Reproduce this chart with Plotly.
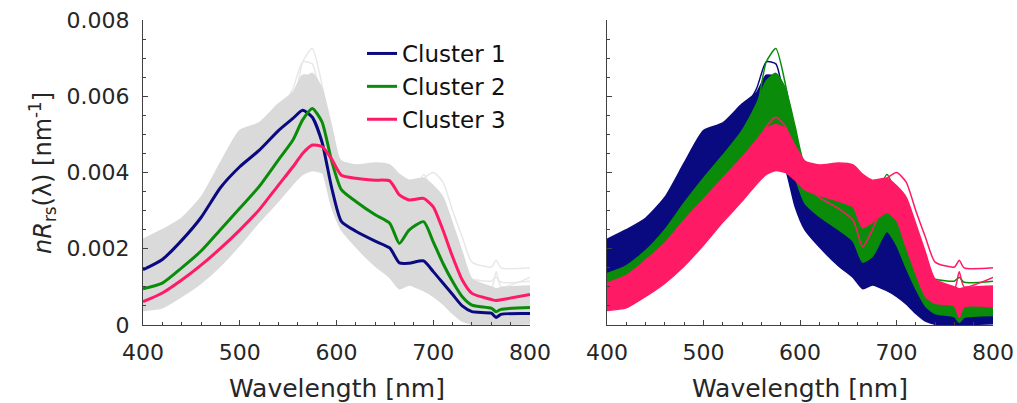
import plotly.graph_objects as go

# ---------------- data ----------------
WL = [400, 420, 440, 460, 480, 500, 520, 540, 555, 565, 575, 585, 595, 605, 620,
      640, 655, 665, 675, 690, 700, 710, 720, 730, 740, 760, 765, 770, 800]

# cluster mean spectra (nRrs, nm^-1)
C1_MEAN = [1.45e-3, 1.72e-3, 2.22e-3, 2.82e-3, 3.60e-3, 4.15e-3, 4.58e-3, 5.10e-3, 5.42e-3, 5.63e-3,
           5.45e-3, 4.80e-3, 3.60e-3, 2.72e-3, 2.46e-3, 2.20e-3, 2.02e-3, 1.63e-3, 1.62e-3, 1.68e-3,
           1.40e-3, 1.10e-3, 0.80e-3, 0.50e-3, 0.35e-3, 0.31e-3, 0.20e-3, 0.28e-3, 0.30e-3]
C2_MEAN = [0.95e-3, 1.10e-3, 1.50e-3, 1.94e-3, 2.50e-3, 3.06e-3, 3.63e-3, 4.33e-3, 4.85e-3, 5.38e-3,
           5.68e-3, 5.33e-3, 4.30e-3, 3.55e-3, 3.24e-3, 2.89e-3, 2.67e-3, 2.14e-3, 2.49e-3, 2.71e-3,
           2.18e-3, 1.62e-3, 1.14e-3, 0.74e-3, 0.52e-3, 0.44e-3, 0.35e-3, 0.41e-3, 0.46e-3]
C3_MEAN = [0.61e-3, 0.84e-3, 1.18e-3, 1.57e-3, 2.01e-3, 2.49e-3, 3.02e-3, 3.67e-3, 4.15e-3, 4.50e-3,
           4.72e-3, 4.68e-3, 4.35e-3, 3.93e-3, 3.85e-3, 3.80e-3, 3.78e-3, 3.41e-3, 3.28e-3, 3.32e-3,
           3.10e-3, 2.49e-3, 1.79e-3, 1.18e-3, 0.83e-3, 0.67e-3, 0.64e-3, 0.66e-3, 0.80e-3]

# upper / lower edges of the bundle of spectra in each cluster
C1_UPPER = [2.25e-3, 2.50e-3, 2.80e-3, 3.35e-3, 4.25e-3, 5.10e-3, 5.30e-3, 5.80e-3, 6.10e-3, 6.55e-3,
            6.50e-3, 5.40e-3, 4.30e-3, 3.30e-3, 3.00e-3, 2.75e-3, 2.60e-3, 2.30e-3, 2.45e-3, 2.65e-3,
            2.35e-3, 1.80e-3, 1.10e-3, 0.60e-3, 0.40e-3, 0.32e-3, 0.25e-3, 0.30e-3, 0.33e-3]
C1_LOWER = [1.20e-3, 1.40e-3, 1.75e-3, 2.20e-3, 2.80e-3, 3.30e-3, 3.80e-3, 4.30e-3, 4.60e-3, 4.70e-3,
            4.60e-3, 4.10e-3, 3.10e-3, 2.50e-3, 2.05e-3, 1.55e-3, 1.25e-3, 0.95e-3, 1.05e-3, 0.90e-3,
            0.75e-3, 0.55e-3, 0.30e-3, 0.10e-3, 0.02e-3, 0.01e-3, 0.01e-3, 0.01e-3, 0.03e-3]
C2_UPPER = [1.35e-3, 1.55e-3, 1.95e-3, 2.50e-3, 3.20e-3, 3.85e-3, 4.45e-3, 5.10e-3, 5.80e-3, 6.40e-3,
            6.60e-3, 6.20e-3, 5.20e-3, 4.20e-3, 3.95e-3, 3.85e-3, 3.70e-3, 3.40e-3, 3.50e-3, 3.60e-3,
            3.35e-3, 2.75e-3, 2.00e-3, 1.25e-3, 0.75e-3, 0.62e-3, 0.55e-3, 0.60e-3, 0.70e-3]
C2_LOWER = [0.40e-3, 0.60e-3, 1.00e-3, 1.40e-3, 1.90e-3, 2.40e-3, 2.95e-3, 3.60e-3, 4.05e-3, 4.35e-3,
            4.45e-3, 4.30e-3, 3.85e-3, 3.20e-3, 2.85e-3, 2.50e-3, 2.20e-3, 1.65e-3, 1.80e-3, 2.45e-3,
            2.10e-3, 1.50e-3, 0.95e-3, 0.50e-3, 0.30e-3, 0.22e-3, 0.07e-3, 0.20e-3, 0.25e-3]
C3_UPPER = [1.10e-3, 1.30e-3, 1.70e-3, 2.15e-3, 2.75e-3, 3.30e-3, 3.85e-3, 4.40e-3, 4.85e-3, 5.15e-3,
            5.25e-3, 5.15e-3, 4.70e-3, 4.30e-3, 4.20e-3, 4.25e-3, 4.20e-3, 3.95e-3, 3.80e-3, 3.85e-3,
            3.65e-3, 3.35e-3, 2.65e-3, 1.90e-3, 1.20e-3, 1.00e-3, 0.95e-3, 0.98e-3, 1.02e-3]
C3_LOWER = [0.38e-3, 0.45e-3, 0.75e-3, 1.10e-3, 1.55e-3, 2.10e-3, 2.70e-3, 3.25e-3, 3.70e-3, 3.95e-3,
            4.05e-3, 4.00e-3, 3.80e-3, 3.55e-3, 3.40e-3, 3.25e-3, 3.10e-3, 2.55e-3, 2.70e-3, 2.95e-3,
            2.75e-3, 2.05e-3, 1.35e-3, 0.75e-3, 0.57e-3, 0.50e-3, 0.20e-3, 0.48e-3, 0.48e-3]

# individual outlying spectra
C1_PEAK = [1.90e-3, 2.10e-3, 2.55e-3, 3.10e-3, 3.85e-3, 4.55e-3, 5.00e-3, 5.55e-3, 6.20e-3, 6.90e-3,
           6.85e-3, 5.70e-3, 4.30e-3, 3.05e-3, 2.70e-3, 2.40e-3, 2.20e-3, 1.80e-3, 1.90e-3, 2.00e-3,
           1.70e-3, 1.20e-3, 0.70e-3, 0.35e-3, 0.15e-3, 0.10e-3, 0.05e-3, 0.10e-3, 0.10e-3]
C2_PEAK = [0.80e-3, 0.95e-3, 1.30e-3, 1.75e-3, 2.30e-3, 2.90e-3, 3.60e-3, 4.50e-3, 5.60e-3, 6.90e-3,
           7.25e-3, 6.30e-3, 4.90e-3, 3.70e-3, 3.40e-3, 3.20e-3, 3.10e-3, 2.80e-3, 3.10e-3, 3.95e-3,
           3.40e-3, 2.40e-3, 1.70e-3, 1.30e-3, 1.20e-3, 1.15e-3, 1.25e-3, 1.12e-3, 1.15e-3]
C3_OUT_A = [0.70e-3, 0.90e-3, 1.30e-3, 1.70e-3, 2.20e-3, 2.80e-3, 3.40e-3, 4.10e-3, 4.70e-3, 5.20e-3,
            5.45e-3, 5.20e-3, 4.60e-3, 4.10e-3, 3.90e-3, 3.75e-3, 3.65e-3, 3.45e-3, 3.55e-3, 3.85e-3,
            4.00e-3, 3.75e-3, 3.00e-3, 2.30e-3, 1.65e-3, 1.52e-3, 1.70e-3, 1.50e-3, 1.50e-3]
C3_OUT_B = [0.50e-3, 0.60e-3, 0.95e-3, 1.35e-3, 1.85e-3, 2.40e-3, 3.00e-3, 3.60e-3, 4.10e-3, 4.40e-3,
            4.55e-3, 4.45e-3, 4.10e-3, 3.70e-3, 3.35e-3, 3.05e-3, 2.75e-3, 2.05e-3, 2.50e-3, 3.30e-3,
            3.20e-3, 2.85e-3, 2.20e-3, 1.50e-3, 1.05e-3, 0.95e-3, 1.40e-3, 1.00e-3, 1.25e-3]

NAMES = ["Cluster 1", "Cluster 2", "Cluster 3"]
MEANS = [C1_MEAN, C2_MEAN, C3_MEAN]
UPPERS = [C1_UPPER, C2_UPPER, C3_UPPER]
LOWERS = [C1_LOWER, C2_LOWER, C3_LOWER]
OUTLIERS = [[C1_PEAK], [C2_PEAK], [C3_OUT_A, C3_OUT_B]]

X_TICKS = [400, 500, 600, 700, 800]
Y_TICKS = [0, 0.002, 0.004, 0.006, 0.008]
Y_TICKTEXT = ["0", "0.002", "0.004", "0.006", "0.008"]

# ---------------- styling ----------------
COLORS = ["#0a0a80", "#0a8c0a", "#ff1a66"]
GRAY = "#dadada"
GRAY_LIGHT = "#e8e8e8"
FONT = "DejaVu Sans"
AX_COLOR = "#404040"
SHAPE = dict(shape="spline", smoothing=0.6)

fig = go.Figure()

# ----- left panel: all spectra in gray, cluster means in colour -----
for k in range(3):
    for o in OUTLIERS[k]:
        fig.add_trace(go.Scatter(x=WL, y=o, mode="lines", line=dict(color=GRAY_LIGHT, width=1.5, **SHAPE),
                                 showlegend=False, hoverinfo="skip", xaxis="x", yaxis="y"))
for k in range(3):
    fig.add_trace(go.Scatter(x=WL, y=LOWERS[k], mode="lines", line=dict(color=GRAY, width=1.5, **SHAPE),
                             showlegend=False, hoverinfo="skip", xaxis="x", yaxis="y"))
    fig.add_trace(go.Scatter(x=WL, y=UPPERS[k], mode="lines", line=dict(color=GRAY, width=1.5, **SHAPE),
                             fill="tonexty", fillcolor=GRAY,
                             showlegend=False, hoverinfo="skip", xaxis="x", yaxis="y"))
for k in range(3):
    fig.add_trace(go.Scatter(x=WL, y=MEANS[k], mode="lines", name=NAMES[k],
                             line=dict(color=COLORS[k], width=3, **SHAPE),
                             showlegend=True, xaxis="x", yaxis="y"))

# ----- right panel: spectra coloured by cluster -----
for k in range(3):
    fig.add_trace(go.Scatter(x=WL, y=LOWERS[k], mode="lines", line=dict(color=COLORS[k], width=1.5, **SHAPE),
                             showlegend=False, hoverinfo="skip", xaxis="x2", yaxis="y2"))
    fig.add_trace(go.Scatter(x=WL, y=UPPERS[k], mode="lines", line=dict(color=COLORS[k], width=1.5, **SHAPE),
                             fill="tonexty", fillcolor=COLORS[k],
                             showlegend=False, hoverinfo="skip", xaxis="x2", yaxis="y2"))
    for o in OUTLIERS[k]:
        fig.add_trace(go.Scatter(x=WL, y=o, mode="lines", line=dict(color=COLORS[k], width=1.5, **SHAPE),
                                 showlegend=False, hoverinfo="skip", xaxis="x2", yaxis="y2"))

# ---------------- layout (pixel geometry of the reference) ----------------
W, H = 1017, 403
L, R, T, B = 143, 993, 20, 325          # plot-area box in pixels
PW, PH = R - L, B - T


def px_x(x):
    return (x - L) / PW


def px_y(y):
    return 1 - (y - T) / PH


dom_x1 = [0, px_x(530)]
dom_x2 = [px_x(607), 1]


def xaxis(domain, anchor):
    return dict(domain=domain, anchor=anchor, range=[400, 800], tickvals=X_TICKS,
                ticks="inside", ticklen=5, tickcolor=AX_COLOR, tickwidth=1,
                minor=dict(dtick=20, tick0=400, ticks="inside", ticklen=3, tickcolor=AX_COLOR, tickwidth=1),
                showline=True, linecolor=AX_COLOR, linewidth=1, mirror=False,
                showgrid=False, zeroline=False, automargin=False,
                tickfont=dict(family=FONT, size=22, color="#262626"), ticklabelstandoff=8)


def yaxis(anchor, labels):
    return dict(domain=[0, 1], anchor=anchor, range=[0, 0.008], tickvals=Y_TICKS, ticktext=Y_TICKTEXT,
                ticks="inside", ticklen=5, tickcolor=AX_COLOR, tickwidth=1,
                minor=dict(dtick=0.0005, tick0=0, ticks="inside", ticklen=3, tickcolor=AX_COLOR, tickwidth=1),
                showline=True, linecolor=AX_COLOR, linewidth=1, mirror=False,
                showgrid=False, zeroline=False, showticklabels=labels, automargin=False,
                tickfont=dict(family=FONT, size=22, color="#262626"), ticklabelstandoff=8)


fig.update_layout(
    width=W, height=H,
    margin=dict(l=L, r=W - R, t=T, b=H - B, autoexpand=False),
    paper_bgcolor="white", plot_bgcolor="white",
    xaxis=xaxis(dom_x1, "y"),
    yaxis=yaxis("x", True),
    xaxis2=xaxis(dom_x2, "y2"),
    yaxis2=yaxis("x2", False),
    showlegend=True,
    legend=dict(x=px_x(362), y=px_y(32), xanchor="left", yanchor="top", traceorder="normal",
                font=dict(family=FONT, size=23, color="#111111"),
                bgcolor="rgba(0,0,0,0)", borderwidth=0, tracegroupgap=0),
    annotations=[
        dict(text="Wavelength [nm]", x=(dom_x1[0] + dom_x1[1]) / 2, y=px_y(388), xref="paper", yref="paper",
             showarrow=False, font=dict(family=FONT, size=25, color="#262626"), xanchor="center", yanchor="middle"),
        dict(text="Wavelength [nm]", x=(dom_x2[0] + dom_x2[1]) / 2, y=px_y(388), xref="paper", yref="paper",
             showarrow=False, font=dict(family=FONT, size=25, color="#262626"), xanchor="center", yanchor="middle"),
        dict(text="<i>nR</i><sub>rs</sub>(λ) [nm<sup>-1</sup>]", x=px_x(42), y=px_y(173), xref="paper", yref="paper",
             textangle=-90, showarrow=False, font=dict(family=FONT, size=24, color="#262626"),
             xanchor="center", yanchor="middle"),
    ],
)

fig.write_html("out.html")
